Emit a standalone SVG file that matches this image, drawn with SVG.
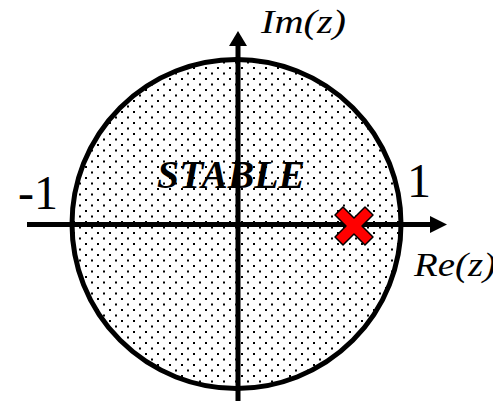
<svg xmlns="http://www.w3.org/2000/svg" width="493" height="401" viewBox="0 0 493 401">
<style>
.lbl{font-family:"Liberation Serif","Times New Roman",serif;font-style:italic;fill:#000}
.num{font-family:"Liberation Serif","Times New Roman",serif;fill:#000}
.ax{stroke:#000;stroke-width:5;fill:none}
</style>
<defs>
<pattern id="dots" width="12" height="11" patternUnits="userSpaceOnUse">
<rect width="12" height="11" fill="#fff"/>
<rect x="1" y="1" width="2" height="2" fill="#000"/>
<rect x="7" y="6.5" width="2" height="2" fill="#000"/>
</pattern>
</defs>
<rect width="493" height="401" fill="#fff"/>
<g id="region">
<circle cx="236.5" cy="224" r="164.5" fill="url(#dots)" stroke="#000" stroke-width="5"/>
</g>
<g id="connectors">
<line class="ax" x1="27" y1="224.5" x2="432" y2="224.5"/>
<polygon points="447,224.5 430,216 430,233" fill="#000"/>
<line class="ax" x1="238" y1="401" x2="238" y2="44"/>
<polygon points="238,31 229,46 247,46" fill="#000"/>
</g>
<g id="labels">
<text class="lbl" x="261" y="33" font-size="33" textLength="85" lengthAdjust="spacingAndGlyphs">Im(z)</text>
<text class="lbl" x="414" y="276" font-size="33" textLength="82" lengthAdjust="spacingAndGlyphs">Re(z)</text>
<text class="num" x="18" y="209" font-size="48">-1</text>
<text class="num" x="407" y="197" font-size="48">1</text>
<text class="lbl" x="157" y="188" font-size="40" font-weight="bold" textLength="148" lengthAdjust="spacingAndGlyphs">STABLE</text>
</g>
<g id="pole" transform="translate(354,226)">
<polygon points="-19,-11 -11,-19 0,-8 11,-19 19,-11 8,0 19,11 11,19 0,8 -11,19 -19,11 -8,0" fill="#f00" stroke="#000" stroke-width="1.5" stroke-linejoin="round"/>
</g>
</svg>
